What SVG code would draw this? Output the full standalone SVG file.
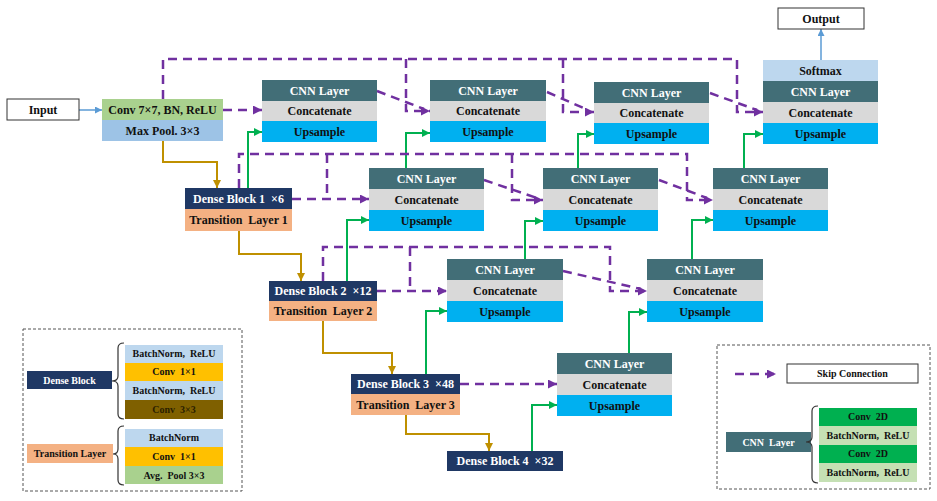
<svg xmlns="http://www.w3.org/2000/svg" width="937" height="501" viewBox="0 0 937 501">
<defs>
<style>
text{font-family:"Liberation Serif","Times New Roman",serif;font-weight:bold;text-anchor:middle;}
.t12{font-size:12px;}
.t10{font-size:10px;}
.w{fill:#ffffff;}
.k{fill:#111111;}
.cnn{fill:#426e77;}
.cat{fill:#d9d9d9;}
.up{fill:#00b0f0;}
.navy{fill:#1f3864;}
.trans{fill:#f4b183;}
.lb{fill:#bdd7ee;}
.gold{fill:#ffc000;}
.brown{fill:#7f6000;}
.lg{fill:#a9d18e;}
.g2d{fill:#00b050;}
.gbn{fill:#c5e0b4;}
.skip{fill:none;stroke:#7030a0;stroke-width:2.5;stroke-dasharray:9 6;}
.gl{fill:none;stroke:#bf9000;stroke-width:2;}
.gr{fill:none;stroke:#00b050;stroke-width:2;}
.bl{fill:none;stroke:#5b9bd5;stroke-width:1.5;}
.brace{fill:none;stroke:#333333;stroke-width:1.2;}
.lgbox{fill:none;stroke:#555555;stroke-width:1;stroke-dasharray:3 2;}
</style>
<marker id="ap" viewBox="0 0 10 10" refX="10" refY="5" markerWidth="9" markerHeight="9" markerUnits="userSpaceOnUse" orient="auto"><path d="M0,0 L10,5 L0,10 z" fill="#7030a0"/></marker>
<marker id="ag" viewBox="0 0 10 10" refX="10" refY="5" markerWidth="8" markerHeight="8" markerUnits="userSpaceOnUse" orient="auto"><path d="M0,0 L10,5 L0,10 z" fill="#bf9000"/></marker>
<marker id="agr" viewBox="0 0 10 10" refX="10" refY="5" markerWidth="8" markerHeight="8" markerUnits="userSpaceOnUse" orient="auto"><path d="M0,0 L10,5 L0,10 z" fill="#00b050"/></marker>
<marker id="ab" viewBox="0 0 10 10" refX="10" refY="5" markerWidth="7" markerHeight="7" markerUnits="userSpaceOnUse" orient="auto"><path d="M0,0 L10,5 L0,10 z" fill="#5b9bd5"/></marker>
</defs>
<rect width="937" height="501" fill="#ffffff"/>

<g id="connectors">
<!-- blue -->
<path class="bl" d="M79,110 H102" marker-end="url(#ab)"/>
<path class="bl" d="M821,60 V29" marker-end="url(#ab)"/>
<!-- gold -->
<path class="gl" d="M163,141 V162 H217 V188" marker-end="url(#ag)"/>
<path class="gl" d="M239,231 V254 H301 V281" marker-end="url(#ag)"/>
<path class="gl" d="M323,321 V353 H392 V374" marker-end="url(#ag)"/>
<path class="gl" d="M406,415 V434 H489 V451" marker-end="url(#ag)"/>
<!-- green -->
<path class="gr" d="M248,188 V132 H262" marker-end="url(#agr)"/>
<path class="gr" d="M406,168 V133 H430" marker-end="url(#agr)"/>
<path class="gr" d="M578,168 V134 H594" marker-end="url(#agr)"/>
<path class="gr" d="M744,168 V134 H763" marker-end="url(#agr)"/>
<path class="gr" d="M347,281 V220 H369" marker-end="url(#agr)"/>
<path class="gr" d="M525,259 V221 H543" marker-end="url(#agr)"/>
<path class="gr" d="M692,259 V220 H713" marker-end="url(#agr)"/>
<path class="gr" d="M426,374 V311 H447" marker-end="url(#agr)"/>
<path class="gr" d="M629,353 V312 H647" marker-end="url(#agr)"/>
<path class="gr" d="M532,451 V405 H557" marker-end="url(#agr)"/>
<!-- skip level 0 -->
<path class="skip" d="M223,110 H262" marker-end="url(#ap)"/>
<path class="skip" d="M163,99 V59 H737 V112 H763" marker-end="url(#ap)"/>
<path class="skip" d="M406,59 V111 H430" marker-end="url(#ap)"/>
<path class="skip" d="M563,59 V112 H594" marker-end="url(#ap)"/>
<path class="skip" d="M377,91 L424,109"/>
<path class="skip" d="M547,92 L588,110"/>
<path class="skip" d="M710,93 L757,110"/>
<!-- skip level 1 -->
<path class="skip" d="M292,199 H369" marker-end="url(#ap)"/>
<path class="skip" d="M239,188 V154 H687 V200 H713" marker-end="url(#ap)"/>
<path class="skip" d="M327,154 V199"/>
<path class="skip" d="M512,154 V200 H543" marker-end="url(#ap)"/>
<path class="skip" d="M484,180 L537,198"/>
<path class="skip" d="M659,180 L707,198"/>
<!-- skip level 2 -->
<path class="skip" d="M377,291 H447" marker-end="url(#ap)"/>
<path class="skip" d="M323,281 V247 H610 V291 H647" marker-end="url(#ap)"/>
<path class="skip" d="M410,247 V291"/>
<path class="skip" d="M563,271 L641,289"/>
<!-- skip level 3 -->
<path class="skip" d="M460,384 H557" marker-end="url(#ap)"/>
</g>

<g id="input">
<rect x="7" y="99" width="72" height="21" fill="#ffffff" stroke="#333333" stroke-width="1"/>
<text class="t12 k" x="43" y="114">Input</text>
</g>
<g id="output">
<rect x="778" y="8" width="86" height="21" fill="#ffffff" stroke="#333333" stroke-width="1"/>
<text class="t12 k" x="821" y="23">Output</text>
</g>
<g id="stem">
<rect class="lg" x="102" y="99" width="121" height="21"/>
<rect fill="#9dc3e6" x="102" y="120" width="121" height="21"/>
<text class="t12 k" x="162.5" y="114">Conv 7×7, BN, ReLU</text>
<text class="t12 k" x="162.5" y="135">Max Pool. 3×3</text>
</g>

<g id="cnnA1">
<rect class="cnn" x="262" y="80" width="115" height="21"/><rect class="cat" x="262" y="101" width="115" height="20"/><rect class="up" x="262" y="121" width="115" height="21"/>
<text class="t12 w" x="319.5" y="95">CNN Layer</text><text class="t12 k" x="319.5" y="115">Concatenate</text><text class="t12 k" x="319.5" y="136">Upsample</text>
</g>
<g id="cnnA2">
<rect class="cnn" x="430" y="80" width="116" height="21"/><rect class="cat" x="430" y="101" width="116" height="20"/><rect class="up" x="430" y="121" width="116" height="21"/>
<text class="t12 w" x="488" y="95">CNN Layer</text><text class="t12 k" x="488" y="115">Concatenate</text><text class="t12 k" x="488" y="136">Upsample</text>
</g>
<g id="cnnA3">
<rect class="cnn" x="594" y="82" width="115" height="21"/><rect class="cat" x="594" y="103" width="115" height="20"/><rect class="up" x="594" y="123" width="115" height="21"/>
<text class="t12 w" x="651.5" y="97">CNN Layer</text><text class="t12 k" x="651.5" y="117">Concatenate</text><text class="t12 k" x="651.5" y="138">Upsample</text>
</g>
<g id="cnnA4">
<rect class="lb" x="763" y="60" width="115" height="21"/><rect class="cnn" x="763" y="81" width="115" height="21"/><rect class="cat" x="763" y="102" width="115" height="21"/><rect class="up" x="763" y="123" width="115" height="21"/>
<text class="t12 k" x="820.5" y="75">Softmax</text><text class="t12 w" x="820.5" y="96">CNN Layer</text><text class="t12 k" x="820.5" y="117">Concatenate</text><text class="t12 k" x="820.5" y="138">Upsample</text>
</g>
<g id="cnnB1">
<rect class="cnn" x="369" y="168" width="115" height="21"/><rect class="cat" x="369" y="189" width="115" height="21"/><rect class="up" x="369" y="210" width="115" height="21"/>
<text class="t12 w" x="426.5" y="183">CNN Layer</text><text class="t12 k" x="426.5" y="204">Concatenate</text><text class="t12 k" x="426.5" y="225">Upsample</text>
</g>
<g id="cnnB2">
<rect class="cnn" x="543" y="168" width="115" height="21"/><rect class="cat" x="543" y="189" width="115" height="21"/><rect class="up" x="543" y="210" width="115" height="21"/>
<text class="t12 w" x="600.5" y="183">CNN Layer</text><text class="t12 k" x="600.5" y="204">Concatenate</text><text class="t12 k" x="600.5" y="225">Upsample</text>
</g>
<g id="cnnB3">
<rect class="cnn" x="713" y="168" width="115" height="21"/><rect class="cat" x="713" y="189" width="115" height="21"/><rect class="up" x="713" y="210" width="115" height="21"/>
<text class="t12 w" x="770.5" y="183">CNN Layer</text><text class="t12 k" x="770.5" y="204">Concatenate</text><text class="t12 k" x="770.5" y="225">Upsample</text>
</g>
<g id="cnnC1">
<rect class="cnn" x="447" y="259" width="116" height="21"/><rect class="cat" x="447" y="280" width="116" height="21"/><rect class="up" x="447" y="301" width="116" height="21"/>
<text class="t12 w" x="505" y="274">CNN Layer</text><text class="t12 k" x="505" y="295">Concatenate</text><text class="t12 k" x="505" y="316">Upsample</text>
</g>
<g id="cnnC2">
<rect class="cnn" x="647" y="259" width="116" height="21"/><rect class="cat" x="647" y="280" width="116" height="21"/><rect class="up" x="647" y="301" width="116" height="21"/>
<text class="t12 w" x="705" y="274">CNN Layer</text><text class="t12 k" x="705" y="295">Concatenate</text><text class="t12 k" x="705" y="316">Upsample</text>
</g>
<g id="cnnD1">
<rect class="cnn" x="557" y="353" width="115" height="21"/><rect class="cat" x="557" y="374" width="115" height="21"/><rect class="up" x="557" y="395" width="115" height="21"/>
<text class="t12 w" x="614.5" y="368">CNN Layer</text><text class="t12 k" x="614.5" y="389">Concatenate</text><text class="t12 k" x="614.5" y="410">Upsample</text>
</g>

<g id="dense1">
<rect class="navy" x="185" y="188" width="107" height="21"/><rect class="trans" x="185" y="209" width="107" height="22"/>
<text class="t12 w" x="238.5" y="203" xml:space="preserve">Dense Block 1  ×6</text>
<text class="t12 k" x="238.5" y="224" xml:space="preserve">Transition  Layer 1</text>
</g>
<g id="dense2">
<rect class="navy" x="269" y="281" width="108" height="20"/><rect class="trans" x="269" y="301" width="108" height="20"/>
<text class="t12 w" x="323" y="295" xml:space="preserve">Dense Block 2  ×12</text>
<text class="t12 k" x="323" y="315" xml:space="preserve">Transition  Layer 2</text>
</g>
<g id="dense3">
<rect class="navy" x="351" y="374" width="109" height="20"/><rect class="trans" x="351" y="394" width="109" height="21"/>
<text class="t12 w" x="405.5" y="388" xml:space="preserve">Dense Block 3  ×48</text>
<text class="t12 k" x="405.5" y="409" xml:space="preserve">Transition  Layer 3</text>
</g>
<g id="dense4">
<rect class="navy" x="447" y="451" width="116" height="20"/>
<text class="t12 w" x="505" y="465" xml:space="preserve">Dense Block 4  ×32</text>
</g>

<g id="legend-left">
<rect class="lgbox" x="23" y="329" width="219" height="162"/>
<rect class="navy" x="27" y="371" width="85" height="18"/>
<text class="t10 w" x="69.5" y="384">Dense Block</text>
<path class="brace" d="M124,343 Q118,343 118,348 L118,376 Q118,381 112,381 Q118,381 118,386 L118,414 Q118,419 124,419"/>
<rect class="lb" x="125" y="345" width="98" height="18"/>
<rect class="gold" x="125" y="363" width="98" height="18"/>
<rect class="lb" x="125" y="381" width="98" height="19"/>
<rect class="brown" x="125" y="400" width="98" height="19"/>
<text class="t10 k" x="174" y="357" xml:space="preserve">BatchNorm,  ReLU</text>
<text class="t10 k" x="174" y="375" xml:space="preserve">Conv  1×1</text>
<text class="t10 k" x="174" y="394" xml:space="preserve">BatchNorm,  ReLU</text>
<text class="t10" x="174" y="413" fill="#2b2000" xml:space="preserve">Conv  3×3</text>
<rect class="trans" x="27" y="444" width="86" height="19"/>
<text class="t10 k" x="70" y="457">Transition Layer</text>
<path class="brace" d="M124,426 Q118,426 118,431 L118,449 Q118,454 113,454 Q118,454 118,459 L118,480 Q118,485 124,485"/>
<rect class="lb" x="125" y="429" width="98" height="18"/>
<rect class="gold" x="125" y="447" width="98" height="19"/>
<rect class="lg" x="125" y="466" width="98" height="18"/>
<text class="t10 k" x="174" y="441">BatchNorm</text>
<text class="t10 k" x="174" y="460" xml:space="preserve">Conv  1×1</text>
<text class="t10 k" x="174" y="479" xml:space="preserve">Avg.  Pool 3×3</text>
</g>

<g id="legend-right">
<rect class="lgbox" x="717" y="345" width="213" height="144"/>
<path class="skip" d="M735,374 H776" marker-end="url(#ap)"/>
<rect x="787" y="364" width="131" height="19" fill="#ffffff" stroke="#333333" stroke-width="1"/>
<text class="t10 k" x="852.5" y="377">Skip Connection</text>
<rect class="cnn" x="726" y="432" width="85" height="20"/>
<text class="t10 w" x="768.5" y="446" xml:space="preserve">CNN  Layer</text>
<path class="brace" d="M818,406 Q812,406 812,411 L812,437 Q812,442 806,442 Q812,442 812,447 L812,478 Q812,483 818,483"/>
<rect class="g2d" x="819" y="408" width="98" height="18"/>
<rect class="gbn" x="819" y="426" width="98" height="19"/>
<rect class="g2d" x="819" y="445" width="98" height="18"/>
<rect class="gbn" x="819" y="463" width="98" height="19"/>
<text class="t10 k" x="868" y="420" xml:space="preserve">Conv  2D</text>
<text class="t10 k" x="868" y="439" xml:space="preserve">BatchNorm,  ReLU</text>
<text class="t10 k" x="868" y="457" xml:space="preserve">Conv  2D</text>
<text class="t10 k" x="868" y="476" xml:space="preserve">BatchNorm,  ReLU</text>
</g>
</svg>
